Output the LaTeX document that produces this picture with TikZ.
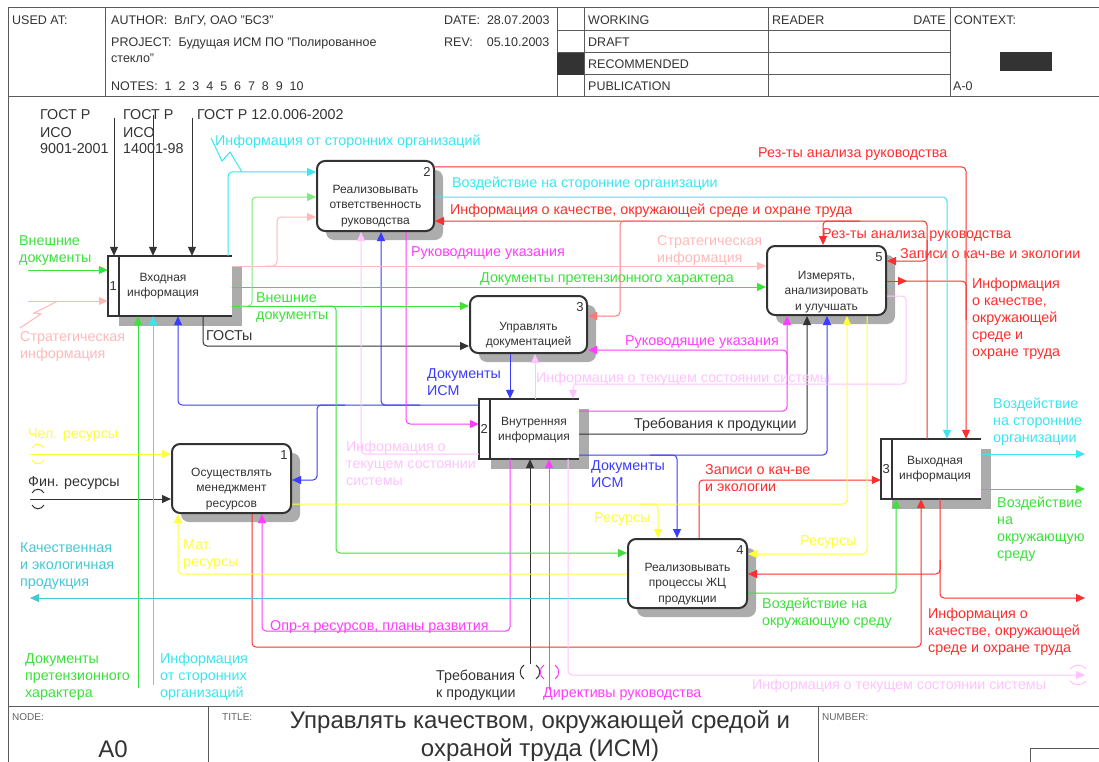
\documentclass[tikz,border=0pt]{standalone}
\usepackage{fontspec}
\setmainfont{Liberation Sans}
\usepackage{tikz}
\usetikzlibrary{arrows.meta,shadows,positioning}
\definecolor{idefgray}{RGB}{51,51,51}
\definecolor{idefframe}{RGB}{90,90,90}
\definecolor{idefgreen}{RGB}{60,225,60}
\definecolor{ideflgreen}{RGB}{130,232,130}
\definecolor{idefcyan}{RGB}{60,230,240}
\definecolor{idefteal}{RGB}{70,200,210}
\definecolor{idefred}{RGB}{255,45,45}
\definecolor{idefsalmon}{RGB}{255,120,120}
\definecolor{idefpink}{RGB}{255,185,185}
\definecolor{idefmag}{RGB}{255,60,255}
\definecolor{ideflmag}{RGB}{255,195,255}
\definecolor{idefblue}{RGB}{60,60,255}
\definecolor{idefyellow}{RGB}{255,255,60}
\definecolor{idefshade}{RGB}{172,172,172}

\begin{document}
\begin{tikzpicture}[x=1pt, y=-1pt,
    act/.style={draw=idefgray, line width=2pt, rounded corners=8pt, fill=white, inner sep=0pt,
        drop shadow={shadow xshift=9pt, shadow yshift=-9pt, opacity=1, fill=idefshade}},
    acttxt/.style={inner sep=0pt, align=center, text=idefgray, font=\fontsize{12}{15.5}\selectfont},
    store/.style={inner sep=0pt},
    storeline/.style={draw=idefgray, line width=2pt},
    shd/.style={fill=idefshade},
    num/.style={inner sep=0pt, text=idefgray, font=\fontsize{13}{15}\selectfont},
    ln/.style={line width=1pt, rounded corners=4pt},
    arr/.style={-{Triangle[length=9pt,width=8pt]}},
    lbl/.style={inner sep=0pt, anchor=base west, align=left, font=\fontsize{14.3}{17}\selectfont},
    frm/.style={draw=idefframe, line width=1pt},
    hd/.style={inner sep=0pt, anchor=base west, text=idefgray, font=\fontsize{12.5}{15}\selectfont},
    ft/.style={inner sep=0pt, anchor=base west, text=black!60, font=\fontsize{10}{12}\selectfont}
]
    \useasboundingbox (0,0) rectangle (1099,762);
    \fill[white] (0,0) rectangle (1099,762);

    % Frame
    \draw[frm] (8,8) -- (1099,8);
    \draw[frm] (8,8) -- (8,762);
    \draw[frm] (8,97) -- (1099,97);
    \draw[frm] (8,706) -- (1099,706);
    \foreach \x in {105,557,584,768,950}
        \draw[frm] (\x,8) -- (\x,97);
    \foreach \y in {31,53,75}
        \draw[frm] (557,\y) -- (950,\y);
    \fill[idefgray] (557,53) rectangle (584,75);
    \fill[idefgray] (1000,52) rectangle (1052,71);
    \draw[frm] (208,706) -- (208,762);
    \draw[frm] (818,706) -- (818,762);
    \draw[frm] (1030,762) |- (1099,748);

    % Header
    \node[hd] (hUsed) at (12,24.5) {USED AT:};
    \node[hd] (hAuthor) at (111,24.5) {AUTHOR:\ \ ВлГУ, ОАО "БСЗ"};
    \node[hd] (hProject) at (111,46.5) {PROJECT:\ \ Будущая ИСМ ПО "Полированное};
    \node[hd] (hProject2) at (111,63) {стекло"};
    \node[hd] (hNotes) at (111,90.5) {NOTES:\ \ 1\ \ 2\ \ 3\ \ 4\ \ 5\ \ 6\ \ 7\ \ 8\ \ 9\ \ 10};
    \node[hd] (hDate) at (444,24.5) {DATE:\ \ 28.07.2003};
    \node[hd] (hRev) at (444,46.5) {REV:\ \ \ \ 05.10.2003};
    \node[hd] (hWorking) at (588,24.5) {WORKING};
    \node[hd] (hDraft) at (588,46.5) {DRAFT};
    \node[hd] (hRecom) at (588,68.5) {RECOMMENDED};
    \node[hd] (hPubl) at (588,90.5) {PUBLICATION};
    \node[hd] (hReader) at (772,24.5) {READER};
    \node[hd, anchor=base east] (hRDate) at (946,24.5) {DATE};
    \node[hd] (hContext) at (954,24.5) {CONTEXT:};
    \node[hd] (hCtxNode) at (953,90.5) {A-0};

    % Footer
    \node[ft] (fNode) at (12,720) {NODE:};
    \node[ft] (fTitle) at (222,720) {TITLE:};
    \node[ft] (fNumber) at (822,720) {NUMBER:};
    \node[text=idefgray, font=\fontsize{24}{28}\selectfont] (fA0) at (113,749) {A0};
    \node[text=idefgray, align=center, font=\fontsize{24}{28}\selectfont] (fTitleText) at (540,736)
        {Управлять качеством, окружающей средой и\\охраной труда (ИСМ)};

    % Store shadows
    \fill[shd] (232,266) rectangle (242,326);
    \fill[shd] (119,316) rectangle (242,326);
    \fill[shd] (579,409) rectangle (589,469);
    \fill[shd] (491,459) rectangle (589,469);
    \fill[shd] (981,449) rectangle (991,509);
    \fill[shd] (892,499) rectangle (991,509);

    % Activities
    \node[act, minimum width=117pt, minimum height=70pt] (a2) at (375.5,196) {};
    \node[act, minimum width=117pt, minimum height=57pt] (a3) at (528.5,324.5) {};
    \node[act, minimum width=119pt, minimum height=69pt] (a5) at (826.5,280.5) {};
    \node[act, minimum width=119pt, minimum height=69pt] (a1) at (231.5,478.5) {};
    \node[act, minimum width=119pt, minimum height=69pt] (a4) at (687.5,573.5) {};
    \node[acttxt] (t2) at (375.5,206) {Реализовывать\\ответственность\\руководства};
    \node[acttxt] (t3) at (528.5,335) {Управлять\\документацией};
    \node[acttxt] (t5) at (826.5,292) {Измерять,\\анализировать\\и улучшать};
    \node[acttxt] (t1) at (231.5,489) {Осуществлять\\менеджмент\\ресурсов};
    \node[acttxt] (t4) at (687.5,584) {Реализовывать\\процессы ЖЦ\\продукции};
    \node[num] (n2) at ([shift={(-8pt,-12pt)}]a2.north east) {2};
    \node[num] (n3) at ([shift={(-8pt,-12pt)}]a3.north east) {3};
    \node[num] (n5) at ([shift={(-8pt,-12pt)}]a5.north east) {5};
    \node[num] (n1) at ([shift={(-8pt,-12pt)}]a1.north east) {1};
    \node[num] (n4) at ([shift={(-8pt,-12pt)}]a4.north east) {4};

    % Stores
    \node[store, minimum width=124pt, minimum height=60pt] (s1) at (170,286) {};
    \node[store, minimum width=100pt, minimum height=60pt] (s2) at (529,429) {};
    \node[store, minimum width=100pt, minimum height=60pt] (s3) at (931,469) {};
    \foreach \s in {s1,s2,s3} {
        \fill[white] ([xshift=11pt]\s.north west) rectangle (\s.south east);
        \draw[storeline] (\s.north east) -| (\s.south west) -- (\s.south east);
        \draw[storeline] ([xshift=11pt]\s.north west) -- ([xshift=11pt]\s.south west);
    }
    \node[acttxt] (u1) at (163,286) {Входная\\информация};
    \node[acttxt] (u2) at (534,430) {Внутренняя\\информация};
    \node[acttxt] (u3) at (935,469) {Выходная\\информация};
    \node[num] (m1) at ([xshift=5.5pt]s1.west) {1};
    \node[num] (m2) at ([xshift=5.5pt]s2.west) {2};
    \node[num] (m3) at ([xshift=5.5pt]s3.west) {3};

    % Free ends
    \coordinate (gost1) at (114,118);
    \coordinate (gost2) at (153,115);
    \coordinate (gost3) at (192,118);
    \coordinate (docIn) at (28,270);
    \coordinate (stratIn) at (28,301);
    \coordinate (humIn) at (30,454);
    \coordinate (finIn) at (30,499);
    \coordinate (prodOut) at (30,598);
    \coordinate (claimIn) at (138,688);
    \coordinate (extInfoIn) at (153,685);
    \coordinate (reqIn) at (530,664);
    \coordinate (dirIn) at (549,690);
    \coordinate (extOut) at (1085,454);
    \coordinate (envOut) at (1085,489);
    \coordinate (qualOut) at (1085,598);
    \coordinate (stateOut) at (1085,675);

    % Arrows: standards and requirements
    \draw[ln, arr, idefgray] (gost1) -- (s1.north -| gost1);
    \draw[ln, arr, idefgray] (gost2) -- (s1.north -| gost2);
    \draw[ln, arr, idefgray] (gost3) -- (s1.north -| gost3);
    \draw[ln, arr, idefgray] (s1.south -| 203,0) |- (a3.west |- 0,346);
    \draw[ln, arr, idefgray] (finIn) -- (a1.west |- finIn);
    \draw[ln, arr, idefgray] (reqIn) -- (s2.south -| reqIn);
    \draw[ln, arr, idefgray] (s2.east |- 0,434) -| (a5.south -| 807,0);

    % Arrows: documents
    \draw[ln, arr, idefblue] (s2.west |- 0,405) -| (s1.south -| 178,0);
    \draw[ln, arr, idefblue] (420,405) -| (a2.south -| 381,0);
    \draw[ln, arr, idefblue] (345,405) -| (317,480) -- (a1.east |- 0,480);
    \draw[ln, arr, idefblue] (a3.south -| 510,0) -- (s2.north -| 510,0);
    \draw[ln, arr, idefblue] (s2.east |- 0,455) -| (a5.south -| 827,0);
    \draw[ln, arr, idefblue] (650,455) -| (a4.north -| 677,0);

    % Arrows: directives
    \draw[ln, arr, idefmag] (a2.south -| 406,0) |- (s2.west |- 0,424);
    \draw[ln, arr, idefmag] (s2.east |- 0,411) -| (a5.south -| 787,0);
    \draw[ln, arr, idefmag] (787,385) |- (a3.east |- 0,350);
    \draw[ln, arr, idefmag] (dirIn) -- (s2.south -| dirIn);
    \draw[ln, arr, idefmag] (s2.south -| 510,0) |- (262,631) -- (a1.south -| 262,0);

    % Arrows: quality information
    \draw[ln, arr, idefred] (a2.east |- 0,167) -| (s3.north -| 966,0);
    \draw[ln, arr, idefred] (s3.north -| 927,0) |- (a2.east |- 0,221);
    \draw[ln, arr, idefred] (927,240) |- (a5.east |- 0,261);
    \draw[ln, arr, idefred] (860,221) -| (a5.north -| 823,0);
    \draw[ln, arr, idefsalmon] (650,221) -| (620,316) -- (a3.east |- 0,316);
    \draw[ln, arr, idefred] (a5.east |- 0,281) -- (907,281);
    \draw[ln, idefred] (900,281) -| (966,320);
    \draw[ln, arr, idefred] (a4.north -| 699,0) |- (s3.west |- 0,480);
    \draw[ln, arr, idefred] (s3.south -| 940,0) |- (qualOut);
    \draw[ln, arr, idefred] (940,560) |- (a4.east |- 0,574);
    \draw[ln, arr, idefred] (a1.south -| 252,0) |- (921,647) -- (s3.south -| 921,0);

    % Arrows: external organisations and product
    \draw[ln, arr, idefcyan] (s1.north -| 228,0) |- (a2.west |- 0,172);
    \draw[line width=1pt, idefcyan] (211,138) -- (222,161) -- (230,152) -- (242,172);
    \draw[ln, arr, idefcyan] (extInfoIn) -- (s1.south -| extInfoIn);
    \draw[ln, arr, idefcyan] (a2.east |- 0,197) -| (s3.north -| 947,0);
    \draw[ln, arr, idefcyan] (s3.east |- extOut) -- (extOut);
    \draw[ln, arr, idefteal] (a4.west |- prodOut) -- (prodOut);

    % Arrows: external documents and environment
    \draw[ln, arr, idefgreen] (docIn) -- (s1.west |- docIn);
    \draw[ln, arr, idefgreen] (claimIn) -- (s1.south -| claimIn);
    \draw[ln, arr, idefgreen] (s1.east |- 0,287) -- (a5.west |- 0,287);
    \draw[ln, arr, idefgreen] (s1.east |- 0,306) -- (a3.west |- 0,306);
    \draw[ln, arr, ideflgreen] (240,306) -| (252,197) -- (a2.west |- 0,197);
    \draw[ln, arr, idefgreen] (320,306) -| (336,553) -- (a4.west |- 0,553);
    \draw[ln, arr, idefgreen] (a4.east |- 0,593) -| (s3.south -| 896,0);
    \draw[ln, arr, idefgreen] (s3.east |- envOut) -- (envOut);

    % Arrows: strategy
    \draw[ln, arr, idefpink] (stratIn) -- (s1.west |- stratIn);
    \draw[line width=1pt, idefpink] (58,301) -- (34,313) -- (41,314) -- (20,328);
    \draw[ln, arr, idefpink] (s1.east |- 0,266) -- (a5.west |- 0,266);
    \draw[ln, arr, idefpink] (265,266) -| (277,217) -- (a2.west |- 0,217);

    % Arrows: system state
    \draw[ln, arr, ideflmag] (s2.west |- 0,454) -| (a2.south -| 361,0);
    \draw[ln, arr, ideflmag] (s2.north -| 535,0) -- (a3.south -| 535,0);
    \draw[ln, arr, ideflmag] (a5.east |- 0,296) -| (906,384) -| (s2.north -| 573,0);
    \draw[ln, arr, ideflmag] (s2.south -| 568,0) |- (stateOut);

    % Arrows: resources
    \draw[ln, arr, idefyellow] (humIn) -- (a1.west |- humIn);
    \draw[ln, arr, idefyellow] (a1.east |- 0,504) -| (a5.south -| 847,0);
    \draw[ln, arr, idefyellow] (640,504) -| (a4.north -| 658,0);
    \draw[ln, arr, idefyellow] (a5.south -| 867,0) |- (a4.east |- 0,554);
    \draw[ln, arr, idefyellow] (a4.west |- 0,574) -| (a1.south -| 178,0);

    % Tunnels
    \draw[line width=1pt, idefyellow] (32,448) .. controls (35,443) and (41,443) .. (44,448);
    \draw[line width=1pt, idefyellow] (32,460) .. controls (35,465) and (41,465) .. (44,460);
    \draw[line width=1pt, idefgray] (32,493) .. controls (35,488) and (41,488) .. (44,493);
    \draw[line width=1pt, idefgray] (32,505) .. controls (35,510) and (41,510) .. (44,505);
    \draw[line width=1pt, idefgray] (524,665) .. controls (519,668) and (519,676) .. (524,679);
    \draw[line width=1pt, idefgray] (536,665) .. controls (541,668) and (541,676) .. (536,679);
    \draw[line width=1pt, idefmag] (544,665) .. controls (539,668) and (539,676) .. (544,679);
    \draw[line width=1pt, idefmag] (555,665) .. controls (560,668) and (560,676) .. (555,679);
    \draw[line width=1pt, ideflmag] (1070,669) .. controls (1074,664) and (1082,664) .. (1086,669);
    \draw[line width=1pt, ideflmag] (1070,681) .. controls (1074,686) and (1082,686) .. (1086,681);

    % Labels (base = last line)
    \node[lbl, text=idefgray] (lG1) at (40,154) {ГОСТ Р\\ИСО\\9001-2001};
    \node[lbl, text=idefgray] (lG2) at (123,154) {ГОСТ Р\\ИСО\\14001-98};
    \node[lbl, text=idefgray] (lG3) at (197,120) {ГОСТ Р 12.0.006-2002};
    \node[lbl, text=idefcyan] (lExtTop) at (215,146) {Информация от сторонних организаций};
    \node[lbl, text=idefred] (lRes1) at (758,158) {Рез-ты анализа руководства};
    \node[lbl, text=idefcyan] (lImpact) at (452,187) {Воздействие на сторонние организации};
    \node[lbl, text=idefred] (lQual1) at (450,214) {Информация о качестве, окружающей среде и охране труда};
    \node[lbl, text=idefred] (lRes2) at (822,238) {Рез-ты анализа руководства};
    \node[lbl, text=idefred] (lRec1) at (900,258) {Записи о кач-ве и экологии};
    \node[lbl, text=idefgreen] (lDocIn) at (19,262) {Внешние\\документы};
    \node[lbl, text=idefmag] (lGuide1) at (411,256) {Руководящие указания};
    \node[lbl, text=idefpink] (lStrat2) at (657,262) {Стратегическая\\информация};
    \node[lbl, text=idefgreen] (lClaim1) at (480,282) {Документы претензионного характера};
    \node[lbl, text=idefred] (lQual2) at (972,356) {Информация\\о качестве,\\окружающей\\среде и\\охране труда};
    \node[lbl, text=idefgreen] (lDoc2) at (256,319) {Внешние\\документы};
    \node[lbl, text=idefgray] (lGosts) at (206,340) {ГОСТы};
    \node[lbl, text=idefpink] (lStrat1) at (20,358) {Стратегическая\\информация};
    \node[lbl, text=idefmag] (lGuide2) at (625,345) {Руководящие указания};
    \node[lbl, text=idefblue] (lIsm1) at (427,395) {Документы\\ИСМ};
    \node[lbl, text=ideflmag] (lState1) at (536,382) {Информация о текущем состоянии системы};
    \node[lbl, text=idefgray] (lReq1) at (634,428) {Требования к продукции};
    \node[lbl, text=idefyellow] (lHum) at (28,438) {Чел. ресурсы};
    \node[lbl, text=ideflmag] (lState2) at (346,485) {Информация о\\текущем состоянии\\системы};
    \node[lbl, text=idefblue] (lIsm2) at (591,487) {Документы\\ИСМ};
    \node[lbl, text=idefred] (lRec2) at (705,491) {Записи о кач-ве\\и экологии};
    \node[lbl, text=idefcyan] (lImpactOut) at (993,442) {Воздействие\\на сторонние\\организации};
    \node[lbl, text=idefgray] (lFin) at (28,486) {Фин. ресурсы};
    \node[lbl, text=idefgreen] (lEnvOut) at (997,558) {Воздействие\\на\\окружающую\\среду};
    \node[lbl, text=idefyellow] (lRes3) at (594,522) {Ресурсы};
    \node[lbl, text=idefyellow] (lRes4) at (800,545) {Ресурсы};
    \node[lbl, text=idefteal] (lProd) at (20,586) {Качественная\\и экологичная\\продукция};
    \node[lbl, text=idefyellow] (lMat) at (183,566) {Мат.\\ресурсы};
    \node[lbl, text=idefgreen] (lEnv) at (762,625) {Воздействие на\\окружающую среду};
    \node[lbl, text=idefred] (lQual3) at (928,652) {Информация о\\качестве, окружающей\\среде и охране труда};
    \node[lbl, text=idefmag] (lPlans) at (270,630) {Опр-я ресурсов, планы развития};
    \node[lbl, text=idefgreen] (lClaim2) at (25,697) {Документы\\претензионного\\характера};
    \node[lbl, text=idefcyan] (lExtBot) at (160,697) {Информация\\от сторонних\\организаций};
    \node[lbl, text=idefgray] (lReq2) at (436,697) {Требования\\к продукции};
    \node[lbl, text=idefmag] (lDir) at (543,697) {Директивы руководства};
    \node[lbl, text=ideflmag] (lState3) at (752,689) {Информация о текущем состоянии системы};
\end{tikzpicture}
\end{document}
